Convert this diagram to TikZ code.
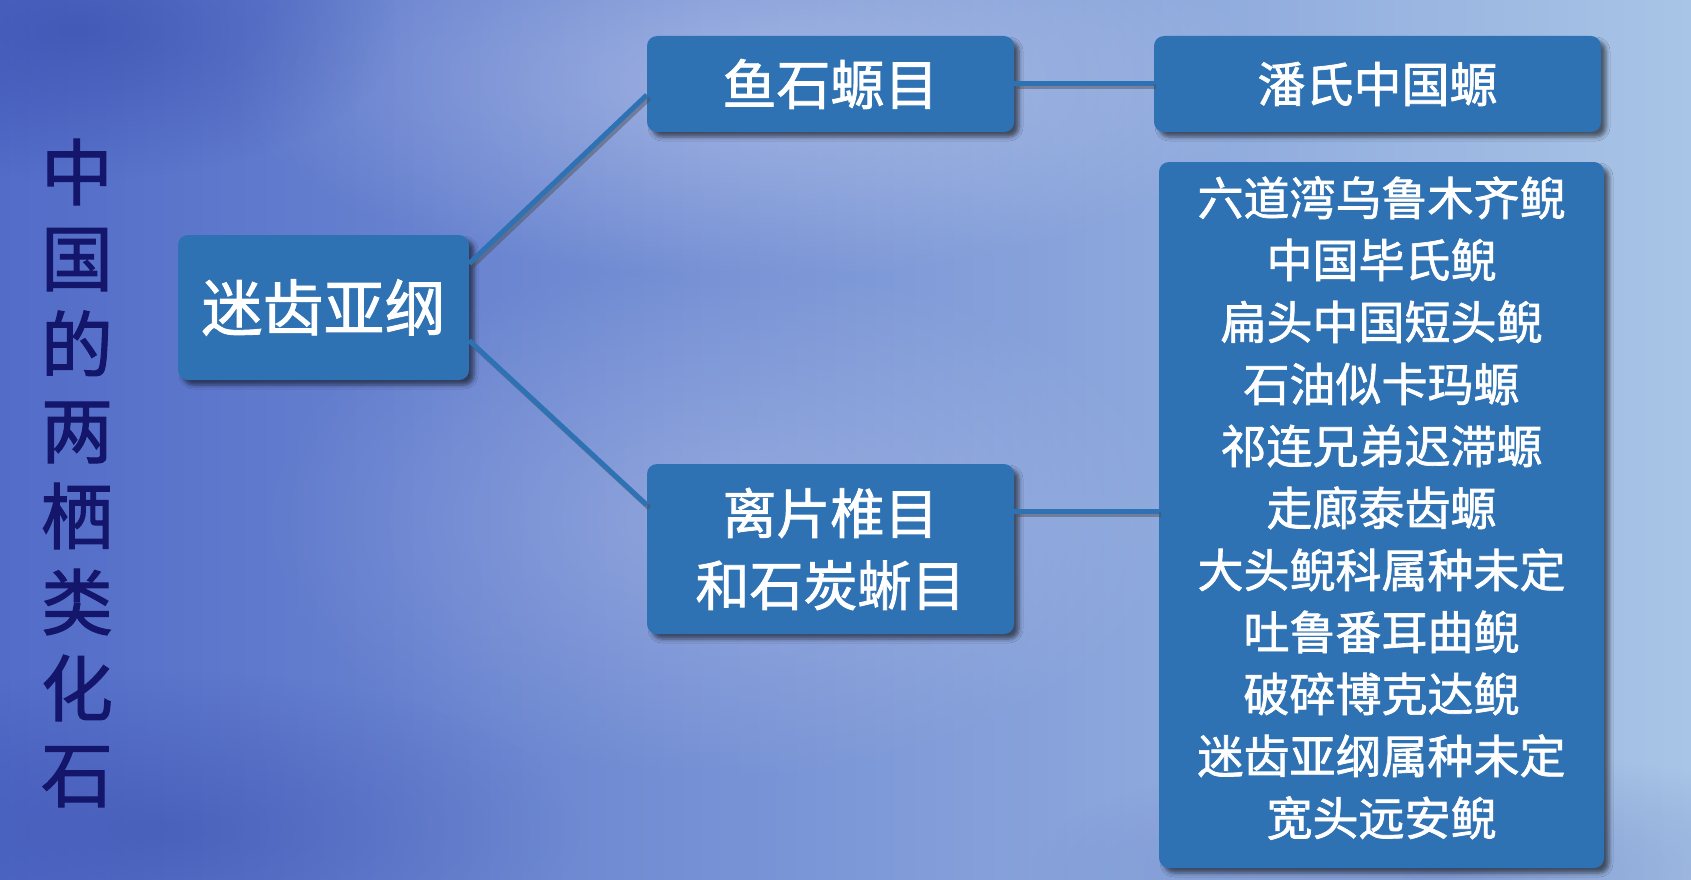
\documentclass[tikz,border=0pt]{standalone}
\usepackage{fontspec}
\newfontfamily\cjk{Noto Sans CJK SC}[FakeBold=1.5]
\usetikzlibrary{shadows.blur,fadings}
\definecolor{riquadro}{RGB}{47,114,180}
\definecolor{titolo}{RGB}{20,22,108}
\definecolor{fondoscuro}{RGB}{82,108,200}
\definecolor{fondomedio}{RGB}{148,176,222}
\definecolor{fondochiaro}{RGB}{168,196,230}
\definecolor{nube}{RGB}{50,68,165}
\tikzfading[name=nuvola, inner color=transparent!0, outer color=transparent!100]
\tikzset{
    scatola/.style={fill=riquadro, rounded corners=10pt, text=white, align=center,
        inner sep=0pt, font=\cjk,
        blur shadow={shadow xshift=5pt, shadow yshift=-5pt, shadow blur radius=4pt, shadow opacity=55}},
    ramo/.style={draw=riquadro, line width=5pt,
        preaction={draw=black!70, line width=5pt, opacity=.45,
            transform canvas={shift={(2.5pt,-3pt)}}}}
}

\begin{document}
\begin{tikzpicture}[x=1pt,y=-1pt]

            % Sfondo
            \useasboundingbox (0,0) rectangle (1691,880);
            \fill[left color=fondoscuro, middle color=fondomedio, right color=fondochiaro] (0,0) rectangle (1691,880);
            \fill[white, opacity=.3, path fading=nuvola] (750,80) ellipse (520 and 200);
            \fill[white, opacity=.2, path fading=nuvola] (720,520) ellipse (460 and 260);
            \fill[nube, opacity=.5, path fading=nuvola] (80,30) ellipse (320 and 150);
            \fill[nube, opacity=.4, path fading=nuvola] (160,830) ellipse (420 and 160);
            \fill[nube, opacity=.25, path fading=nuvola] (1450,870) ellipse (420 and 120);

            % Titolo
            \node[text=titolo, font=\cjk\fontsize{72}{86}\selectfont, align=center, inner sep=0pt]
                (titolo) at (77,473) {中\\国\\的\\两\\栖\\类\\化\\石};

            % Riquadri
            \node[scatola, minimum width=291, minimum height=145, font=\cjk\fontsize{61}{72}\selectfont]
                (mc) at (323.5,307.5) {迷齿亚纲};
            \node[scatola, minimum width=367, minimum height=96, font=\cjk\fontsize{54}{66}\selectfont]
                (ys) at (830.5,84) {鱼石螈目};
            \node[scatola, minimum width=367, minimum height=170, font=\cjk\fontsize{54}{72}\selectfont]
                (lp) at (830.5,549) {离片椎目\\和石炭蜥目};
            \node[scatola, minimum width=447, minimum height=96, font=\cjk\fontsize{48}{60}\selectfont]
                (pan) at (1377.5,84) {潘氏中国螈};
            \node[scatola, minimum width=445, minimum height=706] (elenco) at (1381.5,515) {};
            \node[text=white, align=center, inner sep=0pt, font=\cjk\fontsize{46}{62}\selectfont]
                (elencotesto) at ([yshift=7pt]elenco.center) {六道湾乌鲁木齐鲵\\中国毕氏鲵\\扁头中国短头鲵\\石油似卡玛螈\\祁连兄弟迟滞螈\\走廊泰齿螈\\大头鲵科属种未定\\吐鲁番耳曲鲵\\破碎博克达鲵\\迷齿亚纲属种未定\\宽头远安鲵};

            % Collegamenti
            \coordinate (mcsu) at ([yshift=44pt]mc.east);
            \coordinate (mcgiu) at ([yshift=-33pt]mc.east);
            \coordinate (ysin) at ([yshift=-11pt]ys.west);
            \coordinate (lpin) at ([yshift=44pt]lp.west);
            \coordinate (lpout) at ([yshift=38pt]lp.east);
            \draw[ramo] (mcsu) -- (ysin);
            \draw[ramo] (mcgiu) -- (lpin);
            \draw[ramo] (ys.east) -- (pan.west);
            \draw[ramo] (lpout) -- (lpout -| elenco.west);

        \end{tikzpicture}
\end{document}
